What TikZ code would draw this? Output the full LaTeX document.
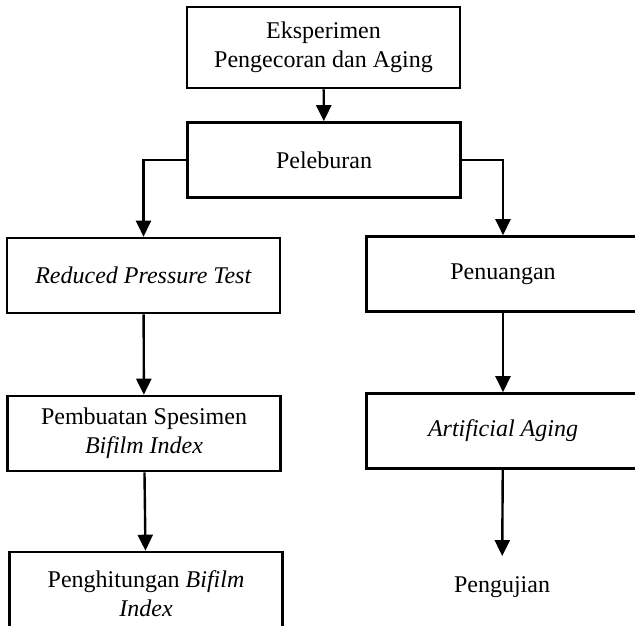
\documentclass[tikz,border=0pt]{standalone}
\usepackage{fontspec}
\setmainfont{Liberation Serif}
\usetikzlibrary{positioning,arrows.meta}

\begin{document}
\begin{tikzpicture}[x=0.5pt, y=-0.5pt,
  procbox/.style={draw=black, line width=1.3pt, minimum width=136.5pt,
    minimum height=37.5pt, inner sep=2pt, font=\fontsize{12}{14.5}\selectfont,
    align=center},
  flow/.style={-{Triangle[length=8pt,width=7.5pt]}, line width=1.2pt}]
  \useasboundingbox (0,0) rectangle (635,625);
  \node[procbox, minimum height=40.5pt] (eks) at (323.5,47.5) {Eksperimen\\Pengecoran dan Aging};
  \node[procbox] (lebur) at (324,160) {Peleburan};
  \node[procbox] (rpt) at (143.5,275.5) {\textit{Reduced Pressure Test}};
  \node[procbox] (tuang) at (503,274) {Penuangan};
  \node[procbox] (spes) at (144,433.5) {Pembuatan Spesimen\\\textit{Bifilm Index}};
  \node[procbox] (aging) at (503,431) {\textit{Artificial Aging}};
  \node[procbox, minimum height=42pt] (hitung) at (146,594) {Penghitungan \textit{Bifilm}\\\textit{Index}};
  \node[font=\fontsize{12}{14.5}\selectfont, inner ysep=10pt] (uji) at (502,587) {Pengujian};
  \draw[flow] (eks) -- (lebur);
  \draw[flow] (lebur.west) -| (rpt.north);
  \draw[flow] (lebur.east) -| (tuang.north);
  \draw[flow] (rpt) -- (spes);
  \draw[flow] (spes) -- (hitung);
  \draw[flow] (tuang) -- (aging);
  \draw[flow] (aging) -- (uji);
\end{tikzpicture}
\end{document}
